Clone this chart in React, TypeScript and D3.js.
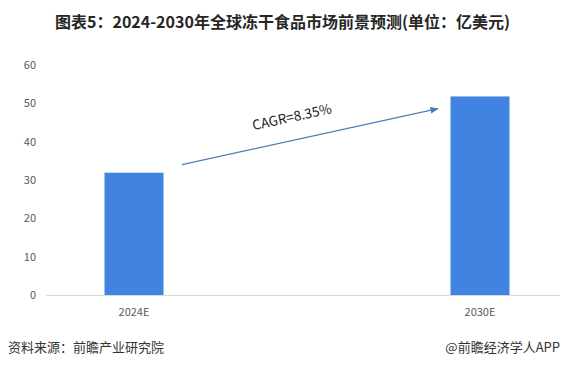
import React from 'react';
import * as d3 from 'd3';

const categories = ['2024E', '2030E'];
const values = [31.9, 51.8];
const yTicks = [0, 10, 20, 30, 40, 50, 60];
const cagrLabel = 'CAGR=8.35%';
const title = '图表5：2024-2030年全球冻干食品市场前景预测(单位：亿美元)';
const source = '资料来源：前瞻产业研究院';
const credit = '@前瞻经济学人APP';

const W = 565;
const H = 365;
const font = '"Noto Sans CJK SC", "Noto Sans", sans-serif';

export default function App() {
  const x = d3.scalePoint<string>().domain(categories).range([134, 480]);
  const y = d3.scaleLinear().domain([0, 60]).range([295, 65]);
  const barW = 59;

  // arrow from above first bar to above second bar
  const x0 = x(categories[0])! + 48;
  const x1 = x(categories[1])! - 42;
  const ay0 = y(34);
  const ay1 = y(48.6);
  const angle = (Math.atan2(ay1 - ay0, x1 - x0) * 180) / Math.PI;
  const mx = (x0 + x1) / 2 - 17;
  const my = (ay0 + ay1) / 2 - 15;

  return (
    <svg
      width={W}
      height={H}
      style={{ position: 'absolute', left: 0, top: 0, background: '#fff' }}
      fontFamily={font}
    >
      <defs>
        <marker id="arr" viewBox="0 0 10 10" refX="9" refY="5" markerWidth="7" markerHeight="7" orient="auto">
          <path d="M0,1 L10,5 L0,9 Z" fill="#4a7ebb" />
        </marker>
      </defs>
      <rect width={W} height={H} fill="#fff" />

      <text x={W / 2} y={28} textAnchor="middle" fontSize={16} fontWeight="bold" fill="#262626">
        {title}
      </text>

      {yTicks.map((t) => (
        <text key={t} x={36} y={y(t) + 4} textAnchor="end" fontSize={11} fill="#595959">
          {t}
        </text>
      ))}

      {categories.map((c, i) => (
        <rect
          key={c}
          x={x(c)! - barW / 2}
          y={y(values[i])}
          width={barW}
          height={y(0) - y(values[i])}
          fill="#4183e0"
        />
      ))}

      <line x1={46} x2={560} y1={y(0) + 0.5} y2={y(0) + 0.5} stroke="#d9d9d9" strokeWidth={1} />

      {categories.map((c) => (
        <text key={c} x={x(c)!} y={316} textAnchor="middle" fontSize={11} fill="#595959">
          {c}
        </text>
      ))}

      <line x1={x0} y1={ay0} x2={x1} y2={ay1} stroke="#4a7ebb" strokeWidth={1.2} markerEnd="url(#arr)" />
      <text
        x={mx}
        y={my}
        textAnchor="middle"
        fontSize={13.5}
        fill="#1a1a1a"
        transform={`rotate(${angle},${mx},${my})`}
      >
        {cagrLabel}
      </text>

      <text x={8} y={352} fontSize={13} fill="#333">{source}</text>
      <text x={560} y={352} textAnchor="end" fontSize={13} fill="#333">{credit}</text>
    </svg>
  );
}
